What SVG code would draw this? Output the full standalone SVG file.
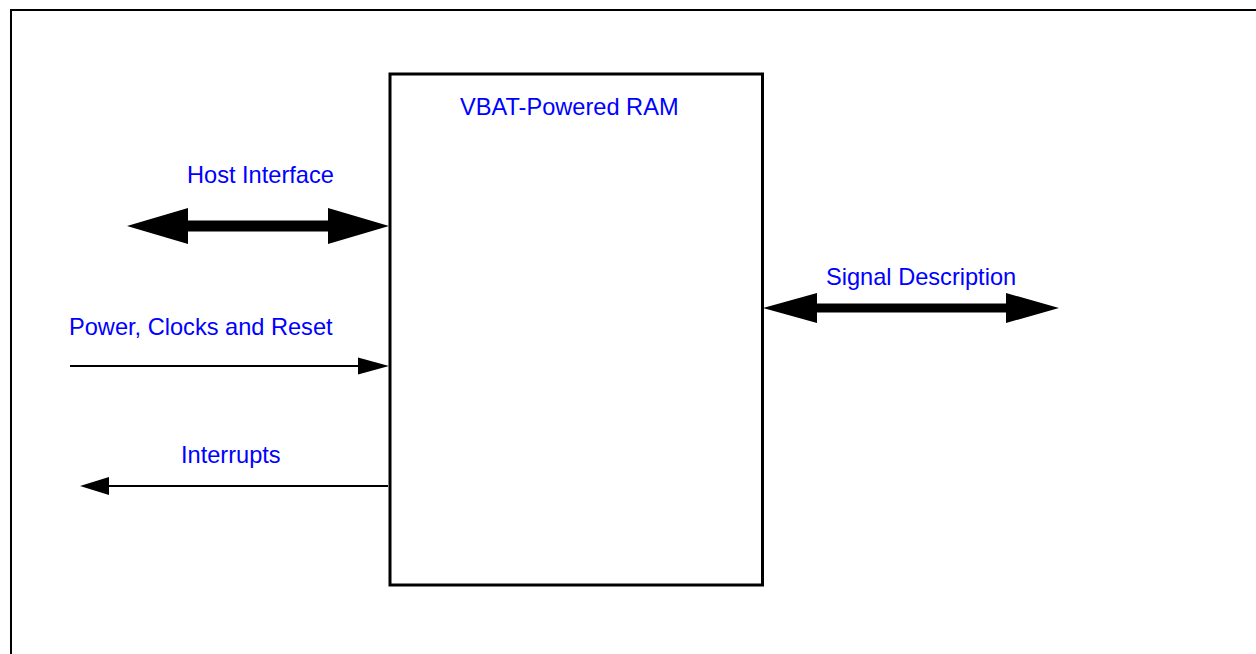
<svg xmlns="http://www.w3.org/2000/svg" width="1256" height="654" viewBox="0 0 1256 654">
<style>
.lbl{font-family:"Liberation Sans",Arial,sans-serif;font-size:23.6px;fill:#0000FF}
.frame{fill:none;stroke:#000;stroke-width:2}
.box{fill:#fff;stroke:#000;stroke-width:3}
.thin{stroke:#000;stroke-width:2;fill:none}
.head{fill:#000}
</style>
<rect width="1256" height="654" fill="#fff"/>
<g id="frame"><rect class="frame" x="11" y="10" width="1260" height="660"/></g>
<g id="ram">
<rect class="box" x="390" y="74" width="372.5" height="511"/>
<text class="lbl" x="460" y="115">VBAT-Powered RAM</text>
</g>
<g id="labels">
<text class="lbl" x="187" y="183">Host Interface</text>
<text class="lbl" x="69" y="335">Power, Clocks and Reset</text>
<text class="lbl" x="181" y="463">Interrupts</text>
<text class="lbl" x="826" y="285">Signal Description</text>
</g>
<g id="connectors">
<path class="head" d="M127,226 L188,208 L188,220.5 L328,220.5 L328,208 L389,226 L328,244 L328,231.5 L188,231.5 L188,244 Z"/>
<line class="thin" x1="70" y1="366" x2="360" y2="366"/>
<path class="head" d="M389,366 L358,357.5 L358,374.5 Z"/>
<line class="thin" x1="388" y1="486" x2="105" y2="486"/>
<path class="head" d="M80,486 L109,477 L109,495 Z"/>
<path class="head" d="M763,308 L817,293 L817,303.5 L1006,303.5 L1006,293 L1059,308 L1006,323 L1006,312.5 L817,312.5 L817,323 Z"/>
</g>
</svg>
